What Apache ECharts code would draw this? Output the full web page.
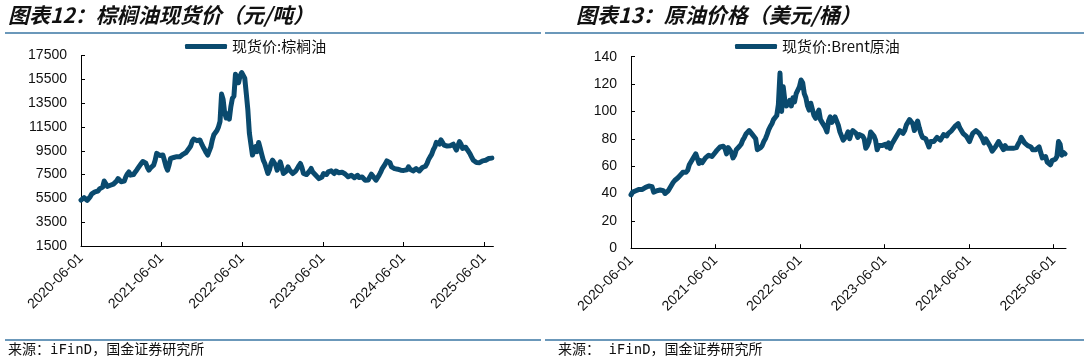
<!DOCTYPE html>
<html><head><meta charset="utf-8">
<script src="https://cdn.jsdelivr.net/npm/echarts@6/dist/echarts.min.js"></script>
<style>html,body{margin:0;padding:0;background:#fff}#c{width:1086px;height:363px}</style>
</head><body><div id="c"></div>
<script>
// x-axis tick labels (yearly, June 1st)
const tickLabels = ['2020-06-01','2021-06-01','2022-06-01','2023-06-01','2024-06-01','2025-06-01'];
// weekly samples starting 2020-06-01
const palmName = '现货价:棕榈油';
const palmValues = [5350,5420,5560,5450,5330,5400,5650,5880,5820,6050,
 6170,6120,6300,6380,6450,6960,6750,6500,6450,6600,
 6650,6700,6850,6950,7160,7050,6900,6790,6950,7300,
 7550,7720,7450,7300,7500,7700,7870,7950,8250,8430,
 8600,8710,8450,8100,7870,8050,8200,8290,8700,9280,
 9350,9100,9200,9140,8700,8200,7870,8300,8860,8750,
 8930,8800,9000,9140,9000,9100,9200,9280,9350,9500,
 9710,9900,10300,10480,10560,10350,10450,10410,10100,9840,
 9600,9350,9140,9300,9800,10400,10840,11000,11200,11500,
 11960,14260,13800,12680,12250,12600,12160,13200,13900,14090,
 15930,15500,15220,15800,16070,16210,15600,14300,12960,10980,
 10060,9140,9500,9840,9420,10200,9710,9200,8710,8430,
 8000,7590,7900,8430,8710,8790,8300,7870,8200,8570,
 8100,7590,7530,7800,8150,7900,7750,7590,7700,7800,
 8010,8230,8430,8100,7590,7700,7500,7390,7800,8010,
 7720,7600,7440,7300,7160,7110,7300,7590,7650,7500,
 7720,7600,7810,7700,7590,7800,7870,7650,7500,7700,
 7810,7550,7400,7310,7300,7440,7350,7240,7300,7440,
 7250,7350,7300,7150,7020,6970,7050,7300,7530,7400,
 7200,7030,7150,7450,7700,8000,8150,8400,8650,8710,
 8500,8150,8090,8000,8050,7950,7900,7870,7950,7850,
 7800,7900,8150,7950,7850,7810,7900,8000,7870,7800,
 7850,8090,8050,8200,8430,8750,8990,9200,9560,9800,
 10200,10270,10050,10410,10200,9980,10100,9900,10000,9920,
 9840,10050,9800,9560,9700,10270,10060,9700,9840,9800,
 9600,9420,9200,8930,8700,8570,8510,8550,8500,8600,
 8650,8750,8700,8800,8850,8950,8880];
const brentName = '现货价:Brent原油';
const brentValues = [39,41,40,42,43,43,43.5,43,44,44.5,
 45,45.5,46,45,41,40,42,41.5,42.5,43,
 42,40,39,42,44,46,48,49.5,50.5,51.5,
 51,54,55.5,55,55.5,57,61,63,65,64,
 69,68,62,64,62.5,63.5,66,67,68,68.5,
 67,68.5,70,71.5,72.5,74,75,74.5,73,69,
 73.5,72,70,66,68,72,72.5,74.5,76,79,
 81,83.5,84.5,86,84.5,83,82,80,72,71,
 73.5,75,78,80,83,86.5,89,91,94,95,
 97,105,128,100,118,108,104,106,108,104,
 110,107,113,114,118,123,121,113,110,104,
 101,106,105,97,95,98,101,94,92,91,
 88,85,93,96,92,94,96,97,90,85,
 84,79,80,82,85,80,84,86,87,84,
 81,83,84,82,80,73,75,78,85,86,
 82,79,72,75,76,75,74,76,74,77,
 73,76,78,80,82,84,86,85,84,86,
 90,92,94,95,91,86,90,93,88,84,
 81,82,80,77,74,78,77,78,79,81,
 82,79,81,83,83,82,84,85,86,87,
 89,90,91,88,87,84,83,82,81,78,
 81,84,85,86,86,84,82,80,77,80,
 78,79,74,71,72,74,73,78,79,74,
 72,75,73,74,73,72,73,74,73.5,76,
 78,81,80,77,76,75,76,74,72,71,
 72,73,74,73,66,65,67,63,62,61,
 64,64,65,67,78,76,68,70,69];

const WEEK = 7 / 365.25; // x unit = years since 2020-06-01
const toXY = arr => arr.map((v, i) => [i * WEEK, v]);

const LINE_COLOR = '#0a4a6e';
const SEP_COLOR = '#3a76a3';
const TXT = '#111';
const latin = '"Liberation Sans", Arial, sans-serif';
const cjk = '"Noto Sans CJK SC", "Liberation Sans", sans-serif';

function xAxisCfg(gi, max) {
  return {
    type: 'value', gridIndex: gi, min: 0, max: max, interval: 1,
    axisLine: { show: true, onZero: false, lineStyle: { color: '#000', width: 1 } },
    axisTick: { show: true, inside: true, length: 4, customValues: [0,1,2,3,4,5], lineStyle: { color: '#000' } },
    axisLabel: { rotate: 45, fontSize: 14, color: TXT, fontFamily: latin, margin: 10,
      customValues: [0,1,2,3,4,5],
      formatter: v => tickLabels[Math.round(v)] || '' },
    splitLine: { show: false }
  };
}
function yAxisCfg(gi, min, max, interval) {
  return {
    type: 'value', gridIndex: gi, min: min, max: max, interval: interval,
    axisLine: { show: true, lineStyle: { color: '#000', width: 1 } },
    axisTick: { show: true, inside: true, length: 4, lineStyle: { color: '#000' } },
    axisLabel: { fontSize: 14, color: TXT, fontFamily: latin, margin: 14, formatter: v => String(v) },
    splitLine: { show: false }
  };
}

const chart = echarts.init(document.getElementById('c'), null, { renderer: 'canvas' });
chart.setOption({
  backgroundColor: '#fff',
  animation: false,
  grid: [
    { left: 81, top: 55.5, width: 412.4, height: 190.5 },
    { left: 631, top: 56.7, width: 435, height: 191.5 }
  ],
  xAxis: [xAxisCfg(0, 412.4 / 80.6), xAxisCfg(1, 435 / 84.5)],
  yAxis: [yAxisCfg(0, 1500, 17500, 2000), yAxisCfg(1, 0, 140, 20)],
  legend: [
    { data: [palmName], left: 185, top: 39, icon: 'roundRect', itemWidth: 42, itemHeight: 5, padding: 0,
      textStyle: { fontSize: 15, color: TXT, fontFamily: cjk } },
    { data: [brentName], left: 735, top: 39, icon: 'roundRect', itemWidth: 42, itemHeight: 5, padding: 0,
      textStyle: { fontSize: 15, color: TXT, fontFamily: cjk } }
  ],
  series: [
    { name: palmName, type: 'line', xAxisIndex: 0, yAxisIndex: 0, data: toXY(palmValues),
      showSymbol: false, symbol: 'none', color: LINE_COLOR,
      lineStyle: { width: 5, color: LINE_COLOR, join: 'round', cap: 'round' } },
    { name: brentName, type: 'line', xAxisIndex: 1, yAxisIndex: 1, data: toXY(brentValues),
      showSymbol: false, symbol: 'none', color: LINE_COLOR,
      lineStyle: { width: 5, color: LINE_COLOR, join: 'round', cap: 'round' } }
  ],
  graphic: [
    { type: 'text', left: 8, top: 5, style: { text: '图表12：棕榈油现货价（元/吨）', fill: TXT,
      font: 'italic bold 21px "Noto Sans CJK SC", sans-serif' } },
    { type: 'text', left: 576, top: 5, style: { text: '图表13：原油价格（美元/桶）', fill: TXT,
      font: 'italic bold 21px "Noto Sans CJK SC", sans-serif' } },
    { type: 'line', shape: { x1: 5, y1: 33, x2: 541, y2: 33 }, style: { stroke: SEP_COLOR, lineWidth: 1.5 } },
    { type: 'line', shape: { x1: 545, y1: 33, x2: 1084, y2: 33 }, style: { stroke: SEP_COLOR, lineWidth: 1.5 } },
    { type: 'line', shape: { x1: 5, y1: 340, x2: 541, y2: 340 }, style: { stroke: SEP_COLOR, lineWidth: 1.5 } },
    { type: 'line', shape: { x1: 545, y1: 340, x2: 1084, y2: 340 }, style: { stroke: SEP_COLOR, lineWidth: 1.5 } },
    { type: 'text', left: 8, top: 343, style: { text: '来源：iFinD，国金证券研究所', fill: TXT,
      font: '14px "DejaVu Sans Mono", "Noto Sans CJK SC", sans-serif' } },
    { type: 'text', left: 558, top: 343, style: { text: '来源： iFinD，国金证券研究所', fill: TXT,
      font: '14px "DejaVu Sans Mono", "Noto Sans CJK SC", sans-serif' } }
  ]
});
</script>
</body></html>
